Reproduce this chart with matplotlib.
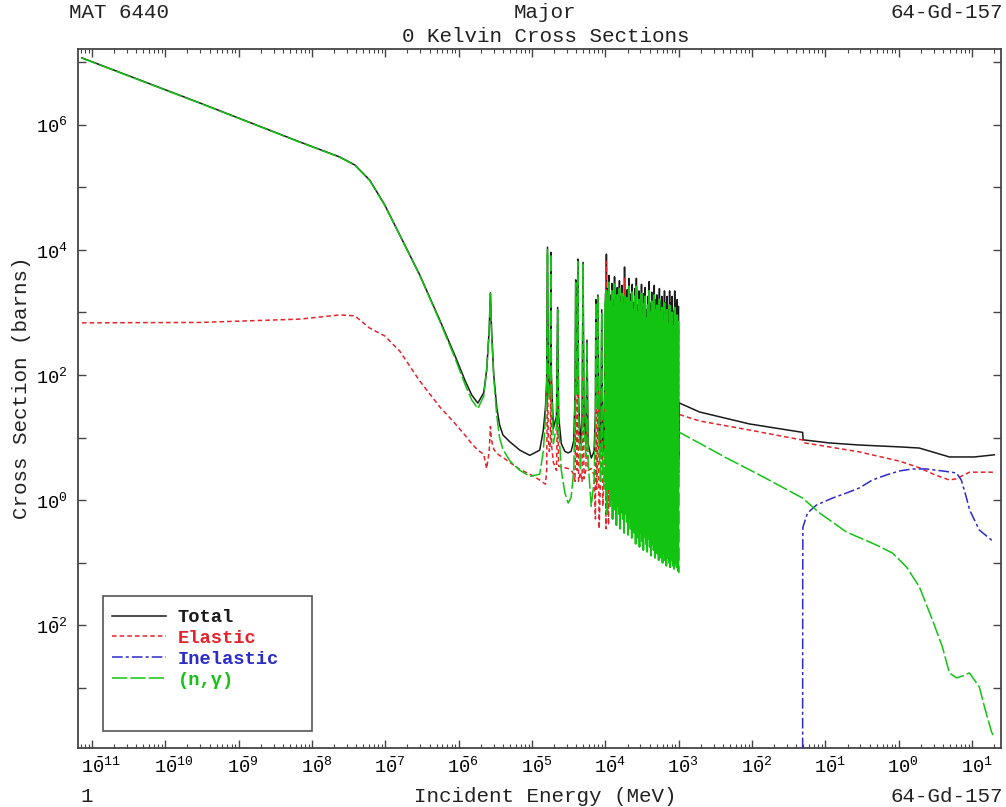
import matplotlib

matplotlib.use("Agg")
import matplotlib.pyplot as plt  # noqa: E402
import matplotlib.transforms as mtransforms  # noqa: E402
import numpy as np  # noqa: E402
from matplotlib.patches import Rectangle  # noqa: E402
from matplotlib.ticker import FixedLocator, LogLocator, NullFormatter, NullLocator  # noqa: E402

plt.rcParams["font.family"] = ["Liberation Mono", "DejaVu Sans Mono"]
plt.rcParams["mathtext.fontset"] = "custom"
plt.rcParams["mathtext.rm"] = "Liberation Mono"
plt.rcParams["mathtext.it"] = "Liberation Mono"
plt.rcParams["mathtext.bf"] = "Liberation Mono:bold"

# energies in MeV, cross sections in barns
LOW_E = [
    7.3e-12, 2.96e-10, 6.82e-9, 2.39e-8, 3.83e-8, 6.1e-8, 9.8e-8, 1.57e-7, 2.94e-7, 5.5e-7,
    8.8e-7, 1.21e-6, 1.5e-6, 1.82e-6, 2.19e-6, 2.4e-6, 2.6e-6, 2.7e-6, 2.8e-6, 3.0e-6,
    3.3e-6, 3.6e-6, 4.0e-6, 5.0e-6, 6.8e-6, 9.3e-6, 1.27e-5, 1.42e-5, 1.52e-5, 1.58e-5,
    1.62e-5, 1.66e-5, 1.72e-5, 1.77e-5, 1.80e-5, 1.83e-5, 1.95e-5, 2.15e-5, 2.23e-5, 2.3e-5,
    2.5e-5, 2.8e-5, 3.1e-5, 3.4e-5, 3.7e-5, 3.85e-5, 3.93e-5, 4.0e-5, 4.1e-5, 4.2e-5,
    4.3e-5, 4.55e-5, 4.8e-5, 4.95e-5, 5.1e-5, 5.4e-5, 5.6e-5, 5.8e-5, 6.4e-5, 7.0e-5,
    7.3e-5, 7.4e-5, 7.6e-5, 7.9e-5, 8.2e-5, 8.6e-5, 8.9e-5, 9.2e-5, 9.6e-5,
]
TOTAL_LOW = [
    1.16e7, 2.21e6, 5.27e5, 3.03e5, 2.26e5, 1.3e5, 5.2e4, 1.72e4, 3950, 757,
    209, 83, 48, 35.5, 52, 120, 520, 2050, 520, 100,
    30, 16, 11, 8.5, 6.3, 5.2, 6.3, 13, 30, 80,
    11000, 80, 50, 100, 9100, 100, 14, 22, 1200, 22,
    8, 6, 5.7, 6, 9, 50, 3300, 60, 70, 7100,
    40, 8, 20, 6300, 20, 8, 360, 8, 4.7, 6,
    25, 1600, 35, 1900, 10, 6, 1100, 7, 6,
]
ELASTIC_LOW = [
    680, 690, 780, 910, 880, 560, 420, 240, 80, 31,
    17, 11, 8, 6.3, 5.4, 3.2, 6, 15, 9, 6.5,
    5.6, 5.2, 4.8, 4.0, 3.1, 2.6, 2.1, 1.9, 1.8, 3,
    145, 10, 6, 8, 120, 8, 4, 3, 40, 3.5,
    3.4, 3.3, 3.2, 3.0, 2.6, 2.0, 60, 5, 3, 150,
    2, 2.8, 2, 130, 2.2, 3, 20, 3, 3.2, 2.5,
    0.5, 40, 1.5, 60, 0.35, 2.5, 30, 0.8, 2.5,
]
CAPTURE_LOW = [
    1.15e7, 2.19e6, 5.22e5, 3.0e5, 2.24e5, 1.28e5, 5.1e4, 1.7e4, 3870, 726,
    192, 72, 40, 29, 46, 115, 510, 2000, 505, 90,
    22, 10, 6.5, 4.2, 3.0, 2.4, 2.6, 6, 20, 70,
    10000, 65, 40, 85, 8500, 85, 8, 15, 1100, 15,
    3, 1.3, 0.9, 1.1, 3, 40, 3000, 50, 60, 6500,
    30, 3, 15, 5800, 15, 5, 330, 4, 0.8, 2,
    20, 1450, 30, 1750, 6, 2, 1000, 3, 1.5,
]

# dense resonance region, 100 eV - 1 keV (energies in eV)
DENSE_E_EV = [
    100, 103, 108, 112, 119, 122, 128, 133, 137, 145,
    150, 155, 163, 168, 177, 182, 192, 198, 208, 214,
    225, 232, 244, 252, 264, 273, 286, 296, 310, 321,
    336, 348, 364, 377, 394, 408, 427, 443, 463, 480,
    502, 520, 544, 564, 589, 611, 638, 662, 691, 717,
    749, 777, 811, 842, 879, 913, 952, 988,
]
TOTAL_PEAKS = [
    2000, 8500, 2400, 3900, 1900, 2900, 1550, 3700, 2100, 2500,
    1400, 3200, 1800, 2700, 1700, 5300, 1300, 2300, 3500, 1150,
    2000, 2800, 1450, 2400, 3500, 1300, 2200, 1600, 2800, 1200,
    2000, 2500, 1100, 1800, 3100, 1400, 2100, 1000, 2700, 1600,
    1900, 1150, 2400, 1500, 1800, 1050, 2200, 1400, 1800, 1100,
    2200, 1400, 1800, 1050, 2200, 1350, 1600, 1250,
]
TOTAL_VALLEYS = [
    6, 12, 5, 8, 5, 7, 4.5, 9, 5, 6,
    4.5, 8, 5, 7, 4.5, 10, 5, 6, 8, 4.5,
    6, 7, 4.5, 6, 8, 4.5, 6, 5, 7, 4.5,
    6, 7, 4.5, 5, 8, 4.5, 6, 4.5, 7, 5,
    6, 4.5, 7, 5, 6, 4.5, 7, 5, 6, 4.5,
    7, 5, 6, 4.5, 7, 5, 6,
]
ELASTIC_PEAKS = [
    500, 6500, 600, 900, 400, 700, 350, 900, 500, 600,
    300, 800, 400, 700, 400, 3500, 300, 600, 900, 250,
    500, 700, 350, 600, 900, 300, 600, 400, 800, 300,
    600, 700, 300, 500, 900, 400, 600, 300, 800, 500,
    600, 350, 800, 500, 600, 350, 800, 500, 700, 450,
    900, 600, 800, 450, 1000, 600, 700, 550,
]
ELASTIC_VALLEYS = [
    0.35, 2.5, 0.4, 3, 2, 0.5, 3, 2.5, 0.45, 3,
    2, 2.5, 0.6, 3, 2.5, 2, 3, 2.5, 2, 3,
    2.5, 2.2, 3, 2.5, 2, 3, 2.6, 2.2, 3, 2.5,
    2.2, 3, 2.6, 2.3, 3, 2.5, 2.2, 3, 2.6, 2.3,
    3, 2.5, 2.2, 3, 2.6, 2.3, 3, 2.5, 2.2, 3,
    2.6, 2.3, 3, 2.5, 2.2, 3, 2.6,
]
CAPTURE_PEAKS = [
    1500, 2200, 1800, 3000, 1500, 2200, 1200, 2800, 1600, 1900,
    1100, 2400, 1400, 2000, 1300, 1800, 1000, 1700, 2600, 900,
    1500, 2100, 1100, 1800, 2600, 1000, 1600, 1200, 2000, 900,
    1400, 1800, 800, 1300, 2200, 1000, 1500, 700, 1900, 1100,
    1300, 800, 1600, 1000, 1200, 700, 1400, 900, 1100, 650,
    1300, 800, 1000, 600, 1200, 750, 900, 700,
]
CAPTURE_VALLEYS = [
    1.2, 0.6, 1.5, 0.8, 1.0, 0.5, 0.9, 0.7, 0.4, 0.8,
    0.6, 0.35, 0.7, 0.5, 0.3, 0.6, 0.45, 0.28, 0.5, 0.35,
    0.25, 0.4, 0.3, 0.2, 0.35, 0.25, 0.18, 0.3, 0.22, 0.16,
    0.26, 0.2, 0.15, 0.24, 0.18, 0.13, 0.2, 0.16, 0.12, 0.18,
    0.14, 0.11, 0.16, 0.12, 0.1, 0.14, 0.11, 0.09, 0.12, 0.1,
    0.085, 0.11, 0.09, 0.08, 0.1, 0.085, 0.075,
]

# smooth part above 1 keV
TOTAL_HIGH_E = [9.95e-4, 1.0e-3, 1.92e-3, 9.2e-3, 0.0443, 0.0488, 0.0496, 0.1135, 0.29, 1.02, 1.9, 3.0, 4.9, 10.7, 20.0]
TOTAL_HIGH = [4.5, 36, 25.6, 16.5, 12.3, 12.1, 9.2, 8.2, 7.6, 7.1, 6.8, 5.8, 4.9, 4.9, 5.3]
ELASTIC_HIGH_E = [9.95e-4, 1.0e-3, 1.92e-3, 9.2e-3, 0.0443, 0.0488, 0.0496, 0.29, 1.02, 1.9, 3.2, 4.9, 6.1, 9.2, 20.0]
ELASTIC_HIGH = [2.5, 23.5, 18.4, 13.2, 9.3, 9.2, 8.3, 5.9, 4.2, 3.3, 2.5, 2.1, 2.2, 2.8, 2.8]
CAPTURE_HIGH_E = [
    9.95e-4, 1.0e-3, 4.48e-3, 0.0126, 0.0487, 0.0829, 0.193, 0.495, 0.818, 1.27,
    1.91, 2.87, 3.93, 4.89, 6.1, 7.35, 9.16, 12.5, 14.7, 18.3, 20.0,
]
CAPTURE_HIGH = [
    0.07, 12.3, 4.72, 2.53, 1.08, 0.625, 0.31, 0.192, 0.143, 0.0857,
    0.041, 0.0122, 4.5e-3, 1.74e-3, 1.45e-3, 1.55e-3, 1.74e-3, 1.04e-3, 5.0e-4, 2.0e-4, 1.6e-4,
]
INELASTIC_E = [
    0.0487, 0.0489, 0.0492, 0.0569, 0.0755, 0.1246, 0.193, 0.290, 0.436, 0.677,
    1.02, 1.53, 2.38, 3.93, 6.1, 7.1, 8.3, 9.2, 12.5, 18.3, 20.0,
]
INELASTIC = [
    1e-6, 0.05, 0.37, 0.625, 0.838, 1.08, 1.30, 1.57, 2.10, 2.53,
    2.93, 3.15, 3.15, 2.93, 2.72, 2.10, 1.12, 0.70, 0.334, 0.231, 0.22,
]

X_DECADES = list(range(-11, 2))
Y_DECADES = list(range(-3, 8))


def _dense(peaks, valleys):
    res_e = np.asarray(DENSE_E_EV, dtype=float) * 1e-6
    dense_e = np.empty(2 * res_e.size - 1)
    dense_e[0::2] = res_e
    dense_e[1::2] = np.sqrt(res_e[:-1] * res_e[1:])
    dense_xs = np.empty_like(dense_e)
    dense_xs[0::2] = peaks
    dense_xs[1::2] = valleys
    return dense_e, dense_xs


def _curve(low_xs, peaks, valleys, high_e, high_xs):
    dense_e, dense_xs = _dense(peaks, valleys)
    e = np.concatenate([LOW_E, dense_e, high_e])
    xs = np.concatenate([low_xs, dense_xs, high_xs])
    return e, xs


def _pow_label(k):
    if k < 0:
        return r"$\mathrm{1\bar{0}^{%d}}$" % (-k)
    return r"$\mathrm{10^{%d}}$" % k


W, H = 1006, 807
fig = plt.figure(figsize=(W / 100, H / 100), dpi=100)
left, right, top, bottom = 77.5, 1001, 49, 747.5
ax = fig.add_axes([left / W, 1 - bottom / H, (right - left) / W, (bottom - top) / H])
ax.set_xscale("log")
ax.set_yscale("log")


def _ax_xy(px, py):
    return (px - left) / (right - left), (bottom - py) / (bottom - top)


tot_e, tot_xs = _curve(TOTAL_LOW, TOTAL_PEAKS, TOTAL_VALLEYS, TOTAL_HIGH_E, TOTAL_HIGH)
el_e, el_xs = _curve(ELASTIC_LOW, ELASTIC_PEAKS, ELASTIC_VALLEYS, ELASTIC_HIGH_E, ELASTIC_HIGH)
ng_e, ng_xs = _curve(CAPTURE_LOW, CAPTURE_PEAKS, CAPTURE_VALLEYS, CAPTURE_HIGH_E, CAPTURE_HIGH)

GREEN = "#12c312"
ax.plot(tot_e, tot_xs, color="#1a1a1a", lw=1.1, label="Total", zorder=2)
ax.plot(el_e, el_xs, color="#e3242b", lw=1.1, ls=(0, (3, 2)), label="Elastic", zorder=3)
ax.plot(INELASTIC_E, INELASTIC, color="#2b2bc8", lw=1.1, ls=(0, (7, 2, 2, 2)), label="Inelastic", zorder=4)
ax.plot(ng_e, ng_xs, color=GREEN, lw=1.1, ls=(0, (10, 2)), label="(n,γ)", zorder=5)
# the packed resonances merge into a solid band
dense_ng_e, dense_ng_xs = _dense(CAPTURE_PEAKS, CAPTURE_VALLEYS)
ax.plot(dense_ng_e, dense_ng_xs, color=GREEN, lw=1.3, zorder=5)

ax.set_xlim(6.34e-12, 24.7)
ax.set_ylim(1.12e-4, 1.61e7)

ax.xaxis.set_major_locator(FixedLocator([10.0 ** k for k in X_DECADES]))
ax.xaxis.set_minor_locator(LogLocator(base=10, subs=range(2, 10), numticks=60))
ax.xaxis.set_major_formatter(NullFormatter())
ax.xaxis.set_minor_formatter(NullFormatter())
ax.yaxis.set_major_locator(FixedLocator([10.0 ** k for k in Y_DECADES]))
ax.yaxis.set_minor_locator(NullLocator())
ax.set_yticklabels([_pow_label(k) if k % 2 == 0 else "" for k in Y_DECADES])

ax.tick_params(which="both", direction="in", top=True, right=True, color="#444444")
ax.tick_params(which="major", length=6, width=1.0)
ax.tick_params(which="minor", length=3, width=0.8)
ax.tick_params(axis="y", labelsize=13.5, pad=7)
for spine in ax.spines.values():
    spine.set_color("#444444")
    spine.set_linewidth(1.3)

# x labels: "10" centred on the tick, exponent hanging to the right
xlab_trans = mtransforms.blended_transform_factory(ax.transData, ax.transAxes) + \
    mtransforms.ScaledTranslation(-0.115, 0, fig.dpi_scale_trans)
for k in X_DECADES:
    ax.text(10.0 ** k, -0.012, _pow_label(k), transform=xlab_trans, ha="left", va="top", fontsize=13.5)

# legend: entries near the top of a taller box
box_x0, box_y0 = _ax_xy(103, 731)
box_x1, box_y1 = _ax_xy(312, 596)
ax.add_patch(Rectangle((box_x0, box_y0), box_x1 - box_x0, box_y1 - box_y0, transform=ax.transAxes,
                       facecolor="white", edgecolor="#555555", lw=1.2, zorder=6))
leg = ax.legend(
    loc="upper left",
    bbox_to_anchor=_ax_xy(112, 609),
    borderaxespad=0,
    borderpad=0,
    frameon=False,
    prop={"family": ["Liberation Mono", "DejaVu Sans Mono"], "size": 13.5, "weight": "bold"},
    handlelength=2.9,
    handletextpad=0.6,
    labelspacing=0.2,
    labelcolor="linecolor",
)
leg.set_zorder(7)


def _fig_text(x, y, s, **kw):
    fig.text(x / W, 1 - y / H, s, va="center", fontsize=15, color="#222222", **kw)


_fig_text(69, 13, "MAT 6440", ha="left")
_fig_text(545, 13, "Major", ha="center")
_fig_text(546, 37, "0 Kelvin Cross Sections", ha="center")
_fig_text(1003, 13, "64-Gd-157", ha="right")
_fig_text(80, 797, "1", ha="left")
_fig_text(545, 797, "Incident Energy (MeV)", ha="center")
_fig_text(1003, 797, "64-Gd-157", ha="right")
_fig_text(22, 388, "Cross Section (barns)", ha="center", rotation=90)

fig.savefig("out.png", dpi=100)
plt.close(fig)
